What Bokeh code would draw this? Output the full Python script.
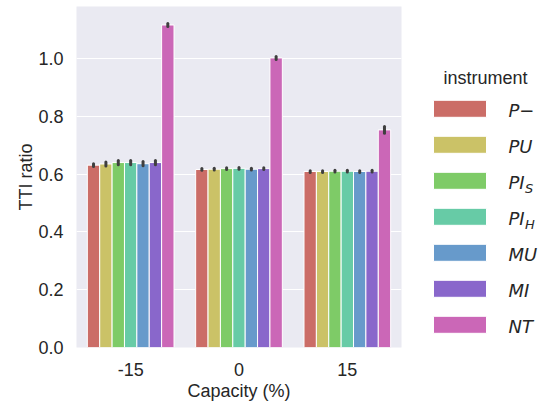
from bokeh.plotting import figure
from bokeh.layouts import row
from bokeh.models import ColumnDataSource, FactorRange, Range1d, FixedTicker, PrintfTickFormatter
from bokeh.transform import dodge
from bokeh.core.properties import value
from bokeh.embed import file_html
from bokeh.resources import INLINE

# --- data -----------------------------------------------------------------
capacities = ["-15", "0", "15"]
instruments = ["P−", "PU", "PI_S", "PI_H", "MU", "MI", "NT"]

tti_p_minus = [0.631, 0.616, 0.609]
tti_pu      = [0.635, 0.617, 0.609]
tti_pi_s    = [0.640, 0.619, 0.610]
tti_pi_h    = [0.640, 0.620, 0.610]
tti_mu      = [0.636, 0.617, 0.609]
tti_mi      = [0.640, 0.619, 0.610]
tti_nt      = [1.116, 1.002, 0.753]

err_p_minus = [0.005, 0.003, 0.003]
err_pu      = [0.007, 0.003, 0.003]
err_pi_s    = [0.0075, 0.003, 0.003]
err_pi_h    = [0.0075, 0.003, 0.003]
err_mu      = [0.0075, 0.003, 0.003]
err_mi      = [0.0075, 0.003, 0.003]
err_nt      = [0.005, 0.005, 0.0115]

y_ticks = [0.0, 0.2, 0.4, 0.6, 0.8, 1.0]

series = [tti_p_minus, tti_pu, tti_pi_s, tti_pi_h, tti_mu, tti_mi, tti_nt]
errors = [err_p_minus, err_pu, err_pi_s, err_pi_h, err_mu, err_mi, err_nt]

# hls palette, desaturated as seaborn bars are
colors = ["#CB6D67", "#CBC267", "#7ECB67", "#67CBA6", "#679ACB", "#8967CB", "#CB67B7"]

FONT = "Liberation Sans"
TEXT = "#262626"
BG = "#EAEAF2"

TOP, BOTTOM = 6, 58

# --- main bar chart -------------------------------------------------------
p = figure(
    width=420, height=405,
    x_range=FactorRange(*capacities),
    y_range=Range1d(0, 1.18),
    output_backend="svg", toolbar_location=None,
    min_border_left=76, min_border_right=19,
    min_border_top=TOP, min_border_bottom=BOTTOM,
)
p.background_fill_color = BG
p.border_fill_color = "white"
p.outline_line_color = None

n = len(instruments)
bar_w = 0.8 / n
for i, (vals, errs, col) in enumerate(zip(series, errors, colors)):
    src = ColumnDataSource(dict(
        cap=capacities,
        top=vals,
        lo=[v - e for v, e in zip(vals, errs)],
        hi=[v + e for v, e in zip(vals, errs)],
    ))
    off = (i - (n - 1) / 2) * bar_w
    xs = dodge("cap", off, range=p.x_range)
    p.vbar(x=xs, top="top", bottom=0, width=bar_w, source=src,
           fill_color=col, line_color="white", line_width=1)
    p.segment(x0=xs, x1=xs, y0="lo", y1="hi", source=src,
              line_color="#3F3F3F", line_width=3, line_cap="round")

p.xgrid.grid_line_color = None
p.ygrid.grid_line_color = "white"
p.ygrid.grid_line_width = 1.2
p.yaxis.ticker = FixedTicker(ticks=y_ticks)
p.yaxis.formatter = PrintfTickFormatter(format="%.1f")

for ax in (p.xaxis, p.yaxis):
    ax.axis_line_color = None
    ax.major_tick_line_color = None
    ax.minor_tick_line_color = None
    ax.major_label_text_font = FONT
    ax.major_label_text_font_size = "18px"
    ax.major_label_text_color = TEXT
    ax.axis_label_text_font = FONT
    ax.axis_label_text_font_size = "18px"
    ax.axis_label_text_font_style = "normal"
    ax.axis_label_text_color = TEXT

p.xaxis.major_label_standoff = 9
p.yaxis.major_label_standoff = 7
p.xaxis.axis_label = "Capacity (%)"
p.yaxis.axis_label = "TTI ratio"
p.xaxis.axis_label_standoff = 2
p.yaxis.axis_label_standoff = -1

# --- legend panel (plotted in page pixels) --------------------------------
leg = figure(
    width=118, height=405,
    x_range=Range1d(0, 118), y_range=Range1d(405 - BOTTOM, TOP),
    x_axis_type=None, y_axis_type=None,
    output_backend="svg", toolbar_location=None,
    min_border_left=0, min_border_right=0,
    min_border_top=TOP, min_border_bottom=BOTTOM,
)
leg.background_fill_color = "white"
leg.border_fill_color = "white"
leg.outline_line_color = None
leg.xgrid.visible = False
leg.ygrid.visible = False

row_y = [108.3 + 36 * k for k in range(n)]
leg.rect(x=39.5, y=row_y, width=53, height=17, fill_color=colors, line_color="white", line_width=1)

base_txt = [s.split("_")[0] for s in instruments]
sub_txt = [s.split("_")[1] if "_" in s else "" for s in instruments]
leg.text(x=88, y=[yy + 2 for yy in row_y], text=base_txt,
         text_font=value("DejaVu Sans"), text_font_style="italic",
         text_font_size="18px", text_color=TEXT,
         text_baseline="alphabetic", text_align="left")
sub_y = [yy + 8 for yy, s in zip(row_y, sub_txt) if s]
sub_s = [s for s in sub_txt if s]
leg.text(x=104.5, y=sub_y, text=sub_s,
         text_font=value("DejaVu Sans"), text_font_style="italic",
         text_font_size="13px", text_color=TEXT,
         text_baseline="alphabetic", text_align="left")
leg.text(x=[65], y=[77], text=["instrument"],
         text_font=value(FONT), text_font_size="18px", text_color=TEXT,
         text_baseline="middle", text_align="center")

layout = row(p, leg)
open("out.html", "w").write(file_html(layout, INLINE))
